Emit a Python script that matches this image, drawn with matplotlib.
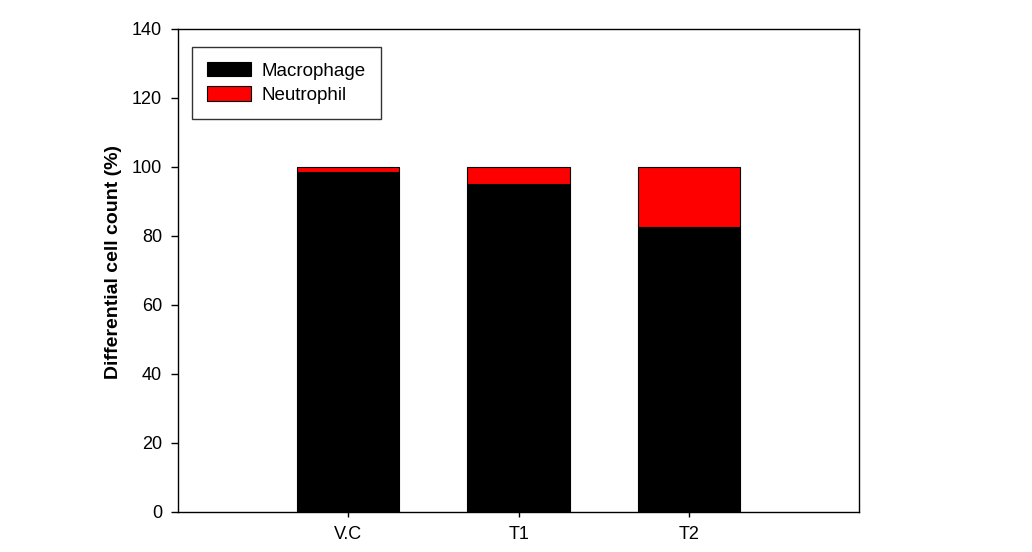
import numpy as np
import matplotlib.pyplot as plt

plt.rcParams['font.family'] = ['Liberation Sans', 'DejaVu Sans']

# datos
groups = ['V.C', 'T1', 'T2']
macrophage = [98.5, 95.0, 82.6]
neutrophil = [1.5, 5.0, 17.4]

fig = plt.figure(figsize=(10.32, 5.52), dpi=100)
ax = fig.add_axes([0.1725, 0.073, 0.66, 0.8745])

x = np.arange(1, len(groups) + 1)
ax.bar(x, macrophage, width=0.6, color='black', edgecolor='black', linewidth=0.8, label='Macrophage')
ax.bar(x, neutrophil, width=0.6, bottom=macrophage, color='#ff0000', edgecolor='black', linewidth=0.8, label='Neutrophil')

ax.set_xlim(0, 4)
ax.set_ylim(0, 140)
ax.set_xticks(x)
ax.set_xticklabels(groups)
ax.set_yticks(np.arange(0, 141, 20))
ax.tick_params(axis='y', direction='out', length=5, width=1, pad=6.5, labelsize=13)
ax.tick_params(axis='x', direction='out', length=3.5, width=1, pad=7, labelsize=13)
ax.set_ylabel('Differential cell count (%)', fontsize=14, fontweight='bold')
ax.yaxis.set_label_coords(-0.082, 0.518)
for s in ax.spines.values():
    s.set_linewidth(1)

leg = ax.legend(loc='upper left', bbox_to_anchor=(0.0206, 0.9627), fontsize=13.5, frameon=True,
                fancybox=False, edgecolor='black', handlelength=2.35, handleheight=0.8,
                handletextpad=0.55, borderpad=0.8, labelspacing=0.36, borderaxespad=0)
leg.get_frame().set_linewidth(1)

fig.savefig('out.png', dpi=100)
